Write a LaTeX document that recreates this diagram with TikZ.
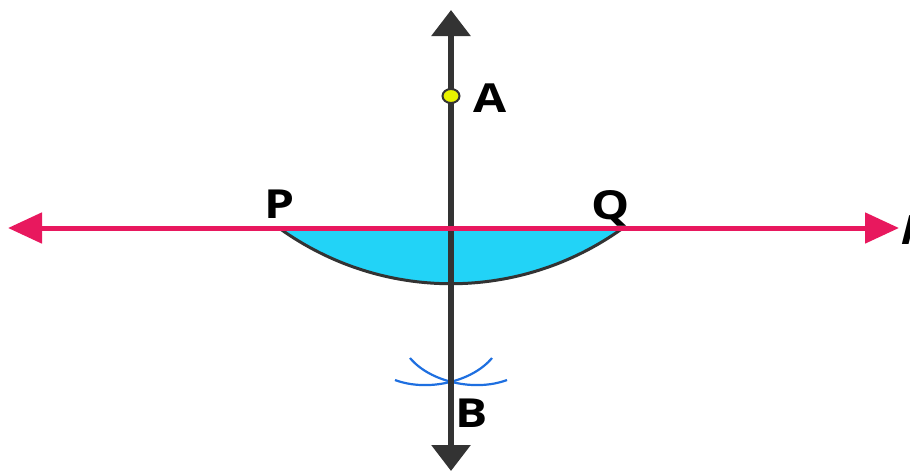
\documentclass[tikz,border=0pt]{standalone}
\usepackage{fontspec}
\setmainfont{Open Sans}
\usetikzlibrary{arrows.meta,shapes.geometric}
\definecolor{pinkl}{HTML}{E8185E}
\definecolor{darkl}{HTML}{333333}
\definecolor{cyanf}{HTML}{22D3F7}
\definecolor{yel}{HTML}{E8F200}
\definecolor{arcb}{HTML}{1E6FE0}
\tikzset{
  lbl/.style={font=\fontsize{40}{40}\selectfont\bfseries, inner sep=0pt, anchor=base, text=black, xscale=1.2},
  vline/.style={draw=darkl, line width=6pt, {Triangle[length=26pt,width=38pt]}-{Triangle[length=26pt,width=38pt]}},
  hline/.style={draw=pinkl, line width=5pt, {Triangle[length=34pt,width=30pt]}-{Triangle[length=34pt,width=30pt]}},
  markarc/.style={draw=arcb, line width=2.2pt},
  dotA/.style={ellipse, fill=yel, draw=darkl, line width=2pt, minimum width=17pt, minimum height=14pt, inner sep=0pt}
}
\begin{document}
\begin{tikzpicture}[x=1pt,y=-1pt]
\useasboundingbox (0,0) rectangle (910,475);
\coordinate (T) at (451,10);
\coordinate (Bt) at (451,471);
\coordinate (L) at (8,228);
\coordinate (R) at (899,228);
\coordinate (P) at (279,228);
\coordinate (Q) at (623,228);
\coordinate (Bx) at (451,383);
% segment
\fill[cyanf] (P) .. controls (382,302.3) and (520,302.3) .. (Q) -- cycle;
\draw[darkl, line width=3pt] (P) .. controls (382,302.3) and (520,302.3) .. (Q);
% construction arcs at B
\draw[markarc] (410,358) .. controls (430,382) and (475,392) .. (507,380);
\draw[markarc] (492,358) .. controls (472,382) and (427,392) .. (395,380);
% lines
\draw[vline] (Bt) -- (T);
\draw[hline] (L) -- (R);
% point A
\node[dotA] (A) at (451,96) {};
% labels
\node[lbl] (lA) at (490,112) {A};
\node[lbl] (lB) at (471.5,427) {B};
\node[lbl] (lP) at (280,218) {P};
\node[lbl] (lQ) at (611,219) {Q};
\node[font=\fontsize{38}{38}\selectfont\bfseries\itshape, inner sep=0pt, anchor=base west, xscale=1.2] (ll) at (901,244) {l};
\end{tikzpicture}
\end{document}
